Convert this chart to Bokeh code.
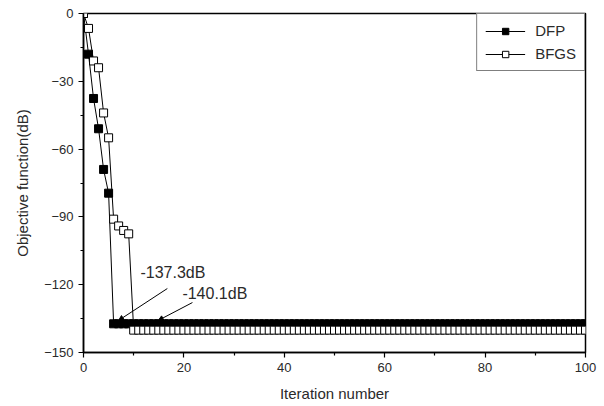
from bokeh.plotting import figure
from bokeh.models import FixedTicker, Legend, LegendItem, Label, Arrow, NormalHead, Range1d
from bokeh.embed import file_html
from bokeh.resources import INLINE

# ---- data ----
iterations = list(range(0, 101))

dfp = [0, -18, -37.6, -51, -69, -79.5,
       -137.3, -137.3, -137.3, -137.3, -137.3, -137.3, -137.3, -137.3, -137.3, -137.3,
       -137.3, -137.3, -137.3, -137.3, -137.3, -137.3, -137.3, -137.3, -137.3, -137.3,
       -137.3, -137.3, -137.3, -137.3, -137.3, -137.3, -137.3, -137.3, -137.3, -137.3,
       -137.3, -137.3, -137.3, -137.3, -137.3, -137.3, -137.3, -137.3, -137.3, -137.3,
       -137.3, -137.3, -137.3, -137.3, -137.3, -137.3, -137.3, -137.3, -137.3, -137.3,
       -137.3, -137.3, -137.3, -137.3, -137.3, -137.3, -137.3, -137.3, -137.3, -137.3,
       -137.3, -137.3, -137.3, -137.3, -137.3, -137.3, -137.3, -137.3, -137.3, -137.3,
       -137.3, -137.3, -137.3, -137.3, -137.3, -137.3, -137.3, -137.3, -137.3, -137.3,
       -137.3, -137.3, -137.3, -137.3, -137.3, -137.3, -137.3, -137.3, -137.3, -137.3,
       -137.3, -137.3, -137.3, -137.3, -137.3]

bfgs = [0, -6.6, -21, -24, -44, -55, -91, -94, -96, -97.5,
        -140.1, -140.1, -140.1, -140.1, -140.1, -140.1, -140.1, -140.1, -140.1, -140.1,
        -140.1, -140.1, -140.1, -140.1, -140.1, -140.1, -140.1, -140.1, -140.1, -140.1,
        -140.1, -140.1, -140.1, -140.1, -140.1, -140.1, -140.1, -140.1, -140.1, -140.1,
        -140.1, -140.1, -140.1, -140.1, -140.1, -140.1, -140.1, -140.1, -140.1, -140.1,
        -140.1, -140.1, -140.1, -140.1, -140.1, -140.1, -140.1, -140.1, -140.1, -140.1,
        -140.1, -140.1, -140.1, -140.1, -140.1, -140.1, -140.1, -140.1, -140.1, -140.1,
        -140.1, -140.1, -140.1, -140.1, -140.1, -140.1, -140.1, -140.1, -140.1, -140.1,
        -140.1, -140.1, -140.1, -140.1, -140.1, -140.1, -140.1, -140.1, -140.1, -140.1,
        -140.1, -140.1, -140.1, -140.1, -140.1, -140.1, -140.1, -140.1, -140.1, -140.1,
        -140.1]

x_ticks = [0, 20, 40, 60, 80, 100]
x_minor = [10, 30, 50, 70, 90]
y_ticks = [0, -30, -60, -90, -120, -150]
y_minor = [-15, -45, -75, -105, -135]

series_names = ["DFP", "BFGS"]
annot_texts = ["-137.3dB", "-140.1dB"]

FONT = "Liberation Sans"
TXT = "#2a2a2a"

p = figure(width=600, height=404, output_backend="svg", toolbar_location=None,
           x_range=Range1d(0, 100), y_range=Range1d(-150, 0),
           min_border_left=83, min_border_right=15, min_border_top=13, min_border_bottom=52)

p.xgrid.visible = False
p.ygrid.visible = False
p.outline_line_color = "black"
p.outline_line_width = 1.5
p.outline_line_alpha = 1.0

for ax in (p.xaxis[0], p.yaxis[0]):
    ax.axis_line_width = 1.5
    ax.axis_line_color = "black"
    ax.major_tick_in = 0
    ax.major_tick_out = 5
    ax.minor_tick_in = 0
    ax.minor_tick_out = 3
    ax.major_tick_line_width = 1.2
    ax.minor_tick_line_width = 1.2
    ax.major_label_text_font = FONT
    ax.major_label_text_font_size = "13px"
    ax.major_label_text_color = TXT
    ax.major_label_standoff = 5
    ax.axis_label_text_font = FONT
    ax.axis_label_text_font_size = "15px"
    ax.axis_label_text_font_style = "normal"
    ax.axis_label_text_color = TXT

p.xaxis.ticker = FixedTicker(ticks=x_ticks, minor_ticks=x_minor)
p.yaxis.ticker = FixedTicker(ticks=y_ticks, minor_ticks=y_minor)
p.xaxis.axis_label = "Iteration number"
p.yaxis.axis_label = "Objective function(dB)"
p.xaxis.axis_label_standoff = 10
p.yaxis.axis_label_standoff = 10

l1 = p.line(iterations, dfp, line_color="black", line_width=1)
s1 = p.scatter(iterations, dfp, marker="square", size=8, fill_color="black",
               line_color="black", line_width=1)
l2 = p.line(iterations, bfgs, line_color="black", line_width=1)
s2 = p.scatter(iterations, bfgs, marker="square", size=8, fill_color="white",
               line_color="black", line_width=1)

legend = Legend(items=[LegendItem(label=series_names[0], renderers=[l1, s1]),
                       LegendItem(label=series_names[1], renderers=[l2, s2])],
                location="top_right", margin=0, padding=8, spacing=6,
                glyph_width=40, glyph_height=16, label_height=16, label_standoff=10,
                label_text_font=FONT, label_text_font_size="15px", label_text_color=TXT,
                border_line_color="black", border_line_width=1.2,
                background_fill_alpha=1.0)
p.add_layout(legend)

p.add_layout(Label(x=11.35, y=-114.6, text=annot_texts[0], text_font=FONT,
                   text_font_size="16px", text_color=TXT, text_baseline="middle",
                   text_align="left"))
p.add_layout(Label(x=19.7, y=-123.9, text=annot_texts[1], text_font=FONT,
                   text_font_size="16px", text_color=TXT, text_baseline="middle",
                   text_align="left"))

p.add_layout(Arrow(x_start=16.7, y_start=-121.7, x_end=7.0, y_end=-135.8,
                   line_color="black", line_width=1,
                   end=NormalHead(size=5, fill_color="black", line_color="black")))
p.add_layout(Arrow(x_start=21.7, y_start=-127.9, x_end=14.9, y_end=-135.8,
                   line_color="black", line_width=1,
                   end=NormalHead(size=5, fill_color="black", line_color="black")))

open("out.html", "w").write(file_html(p, INLINE))
